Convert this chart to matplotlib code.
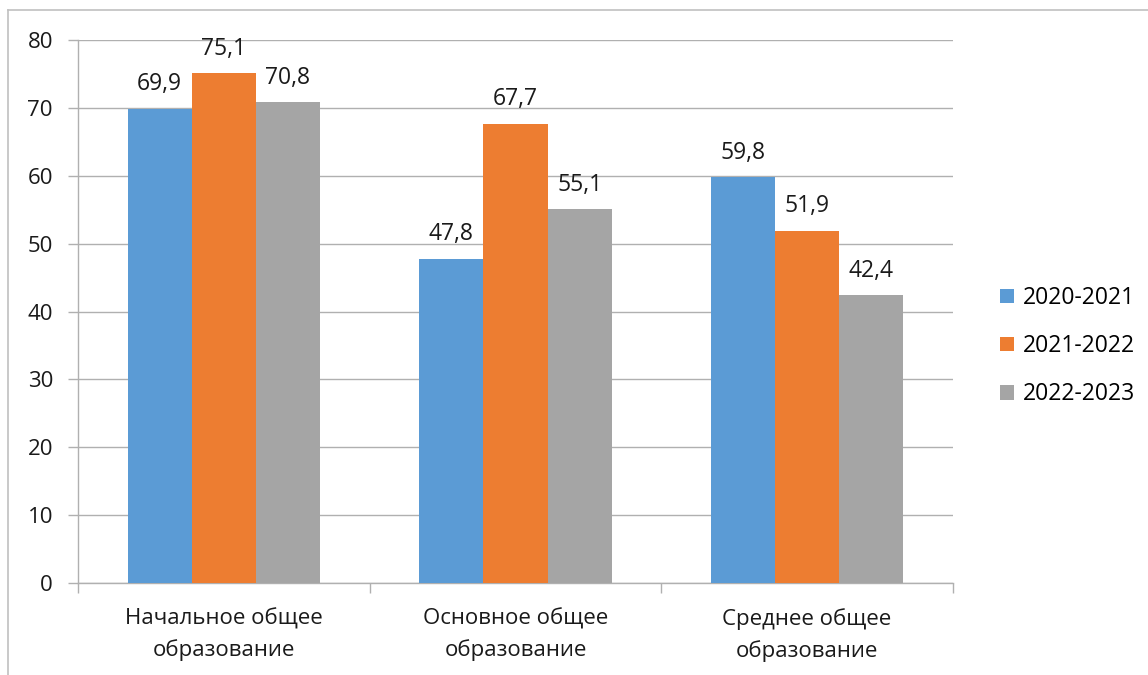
import matplotlib.pyplot as plt
import numpy as np
from matplotlib.lines import Line2D

categories = ['Начальное общее\nобразование', 'Основное общее\nобразование', 'Среднее общее\nобразование']
series = ['2020-2021', '2021-2022', '2022-2023']
values_2020 = [69.9, 47.8, 59.8]
values_2021 = [75.1, 67.7, 51.9]
values_2022 = [70.8, 55.1, 42.4]
yticks = [0, 10, 20, 30, 40, 50, 60, 70, 80]

COLORS = ['#5B9BD5', '#ED7D31', '#A5A5A5']
GRID = '#b0b0b0'
TEXT = '#1a1a1a'

plt.rcParams['font.family'] = ['Open Sans', 'DejaVu Sans']

fig = plt.figure(figsize=(11.48, 6.75), dpi=100)
ax = fig.add_axes([0.0679, 0.1363, 0.7622, 0.8044])

x = np.arange(len(categories))
width = 0.22
for i, (name, vals) in enumerate(zip(series, [values_2020, values_2021, values_2022])):
    bars = ax.bar(x + (i - 1) * width, vals, width, color=COLORS[i], label=name, zorder=3)
    for b, v in zip(bars, vals):
        ax.annotate(f'{v:.1f}'.replace('.', ','), (b.get_x() + b.get_width() / 2, v),
                    xytext=(0, 9), textcoords='offset points', ha='center', va='bottom',
                    fontsize=16.5, color=TEXT, zorder=4)

ax.set_xlim(-0.5, 2.5)
ax.set_ylim(0, 80)
ax.set_yticks(yticks)
ax.set_yticklabels([str(t) for t in yticks], fontsize=16, color=TEXT)
ax.grid(axis='y', color=GRID, linewidth=1, zorder=0)
ax.set_xticks(x)
ax.set_xticklabels(categories, fontsize=16, color=TEXT, linespacing=1.6)
ax.tick_params(axis='x', which='major', length=0, pad=18)
ax.set_xticks([-0.5, 0.5, 1.5, 2.5], minor=True)
ax.tick_params(axis='x', which='minor', length=7, color=GRID, width=1)
ax.tick_params(axis='y', length=7, color=GRID, width=1, pad=11)

for s in ['top', 'right']:
    ax.spines[s].set_visible(False)
for s in ['left', 'bottom']:
    ax.spines[s].set_color(GRID)
    ax.spines[s].set_linewidth(1)

ax.legend(loc='center left', bbox_to_anchor=(1.03, 0.436), frameon=False, fontsize=16.5,
          handlelength=0.6, handleheight=0.6, handletextpad=0.4, labelspacing=1.05)

# outer chart frame
fig.add_artist(Line2D([8 / 1148, 1], [1 - 10 / 675, 1 - 10 / 675], color='#c0c0c0', linewidth=1.2))
fig.add_artist(Line2D([8 / 1148, 8 / 1148], [0, 1 - 10 / 675], color='#c0c0c0', linewidth=1.2))

plt.savefig('out.png', dpi=100)
